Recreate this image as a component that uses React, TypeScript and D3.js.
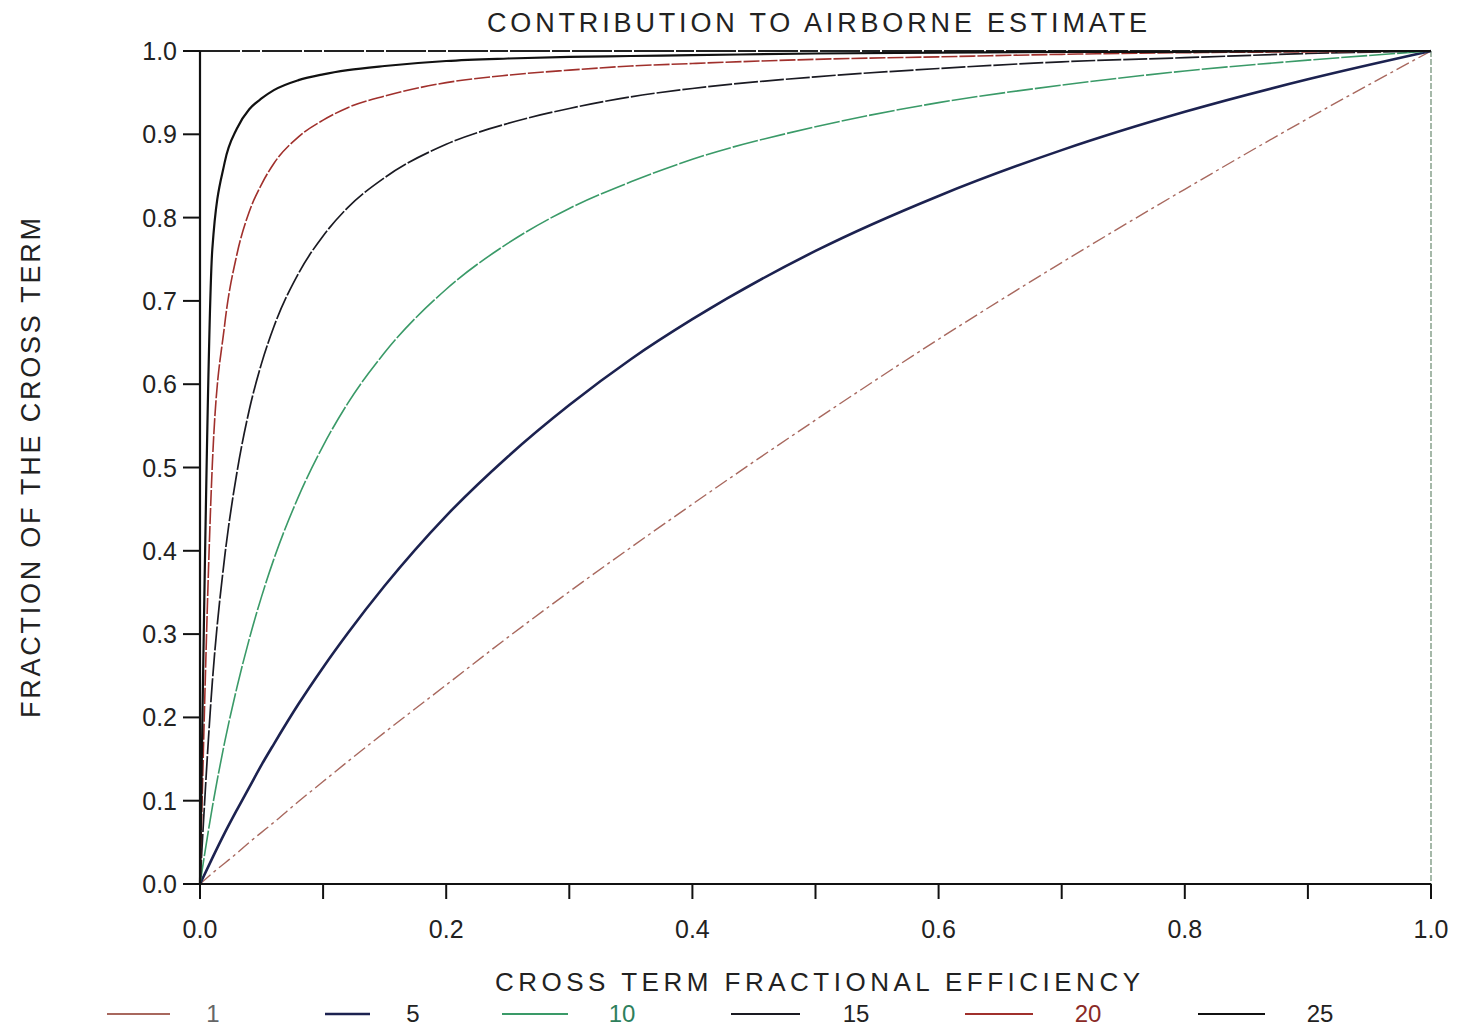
import React from "react";
import * as d3 from "d3";

// Shared abscissa: cross term fractional efficiency
const efficiency = [0, 0.01, 0.02, 0.03, 0.04, 0.05, 0.06, 0.08, 0.1, 0.12, 0.15, 0.2, 0.25, 0.3, 0.35, 0.4, 0.5, 0.6, 0.7, 0.8, 0.9, 1.0];

// Fraction of the cross term for each curve, one value per efficiency entry
const curve1 = [0, 0.013, 0.025, 0.037, 0.050, 0.062, 0.074, 0.099, 0.123, 0.147, 0.182, 0.239, 0.296, 0.351, 0.404, 0.456, 0.557, 0.654, 0.746, 0.834, 0.919, 1.0];
const curve5 = [0, 0.031, 0.061, 0.089, 0.116, 0.143, 0.168, 0.216, 0.260, 0.301, 0.358, 0.442, 0.513, 0.575, 0.630, 0.678, 0.760, 0.826, 0.881, 0.927, 0.966, 1.0];
const curve10 = [0, 0.092, 0.170, 0.236, 0.294, 0.345, 0.390, 0.465, 0.526, 0.577, 0.638, 0.714, 0.769, 0.811, 0.843, 0.870, 0.909, 0.938, 0.959, 0.976, 0.989, 1.0];
const curve15 = [0, 0.242, 0.392, 0.494, 0.569, 0.625, 0.669, 0.733, 0.778, 0.812, 0.848, 0.888, 0.913, 0.931, 0.945, 0.955, 0.969, 0.979, 0.987, 0.992, 0.997, 1.0];
const curve20 = [0, 0.503, 0.671, 0.756, 0.807, 0.840, 0.865, 0.897, 0.917, 0.932, 0.946, 0.962, 0.971, 0.977, 0.982, 0.985, 0.990, 0.993, 0.996, 0.998, 0.999, 1.0];
const curve25 = [0, 0.762, 0.866, 0.907, 0.930, 0.943, 0.953, 0.965, 0.972, 0.977, 0.982, 0.988, 0.991, 0.993, 0.994, 0.995, 0.997, 0.998, 0.999, 0.999, 1.0, 1.0];

const seriesLabels = ["1", "5", "10", "15", "20", "25"];
const seriesValues = [curve1, curve5, curve10, curve15, curve20, curve25];

const xTicks = [0, 0.1, 0.2, 0.3, 0.4, 0.5, 0.6, 0.7, 0.8, 0.9, 1.0];
const xTickLabels = ["0.0", "0.2", "0.4", "0.6", "0.8", "1.0"];
const yTicks = [0, 0.1, 0.2, 0.3, 0.4, 0.5, 0.6, 0.7, 0.8, 0.9, 1.0];

const titleText = "CONTRIBUTION TO AIRBORNE ESTIMATE";
const xLabelText = "CROSS TERM FRACTIONAL EFFICIENCY";
const yLabelText = "FRACTION OF THE CROSS TERM";

type Style = { stroke: string; width: number; dash?: string; text: string };
const styles: Style[] = [
  { stroke: "#a8685e", width: 1.4, dash: "14,4,3,4", text: "#666666" },
  { stroke: "#1c2250", width: 2.6, text: "#222222" },
  { stroke: "#3a9a68", width: 1.6, dash: "26,2", text: "#2e7f5c" },
  { stroke: "#1a1a22", width: 1.7, dash: "24,2", text: "#222222" },
  { stroke: "#a0302c", width: 1.6, dash: "16,2", text: "#8a2a26" },
  { stroke: "#111111", width: 2.2, text: "#222222" },
];

const legendPos = [
  { x0: 107, x1: 170, tx: 213 },
  { x0: 325, x1: 370, tx: 413 },
  { x0: 502, x1: 568, tx: 622 },
  { x0: 731, x1: 800, tx: 856 },
  { x0: 965, x1: 1033, tx: 1088 },
  { x0: 1198, x1: 1265, tx: 1320 },
];

const W = 1470;
const H = 1026;
const left = 200;
const right = 1431;
const top = 51;
const bottom = 884;
const font = "'Liberation Sans', Arial, sans-serif";

export default function App() {
  const x = d3.scaleLinear().domain([0, 1]).range([left, right]);
  const y = d3.scaleLinear().domain([0, 1]).range([bottom, top]);

  const line = d3
    .line<number>()
    .x((_, i) => x(efficiency[i]))
    .y((d) => y(d))
    .curve(d3.curveMonotoneX);

  return (
    <svg
      width={W}
      height={H}
      style={{ position: "absolute", left: 0, top: 0, background: "#fff" }}
      fontFamily={font}
    >
      <rect width={W} height={H} fill="#fff" />

      {/* title */}
      <text x={487} y={32} fontSize={27} fill="#222" textLength={660} lengthAdjust="spacing">
        {titleText}
      </text>

      {/* frame: top and right edges */}
      <line x1={left} x2={right} y1={top} y2={top} stroke="#222" strokeWidth={2.2} strokeDasharray="40,2,18,2" />
      <line x1={right} x2={right} y1={top} y2={bottom} stroke="#6a8a70" strokeWidth={1.2} strokeDasharray="6,2" />

      {/* curves */}
      {seriesValues.map((vals, i) => (
        <path
          key={seriesLabels[i]}
          d={line(vals) || ""}
          fill="none"
          stroke={styles[i].stroke}
          strokeWidth={styles[i].width}
          strokeDasharray={styles[i].dash}
          strokeLinejoin="round"
        />
      ))}

      {/* y axis */}
      <line x1={left} x2={left} y1={top} y2={bottom} stroke="#111" strokeWidth={2.2} />
      {yTicks.map((t) => (
        <g key={"y" + t}>
          <line x1={left - 17} x2={left} y1={y(t)} y2={y(t)} stroke="#111" strokeWidth={2} />
          <text x={177} y={y(t) + 9} fontSize={25} textAnchor="end" fill="#222">
            {t.toFixed(1)}
          </text>
        </g>
      ))}

      {/* x axis */}
      <line x1={left} x2={right} y1={bottom} y2={bottom} stroke="#111" strokeWidth={2.2} />
      {xTicks.map((t) => (
        <line key={"x" + t} x1={x(t)} x2={x(t)} y1={bottom} y2={bottom + 15} stroke="#111" strokeWidth={2} />
      ))}
      {xTickLabels.map((s) => (
        <text key={"xl" + s} x={x(+s)} y={938} fontSize={25} textAnchor="middle" fill="#222">
          {s}
        </text>
      ))}

      {/* axis titles */}
      <text x={495} y={991} fontSize={26} fill="#222" textLength={645} lengthAdjust="spacing">
        {xLabelText}
      </text>
      <text
        transform="translate(40,718) rotate(-90)"
        x={0}
        y={0}
        fontSize={27}
        fill="#222"
        textLength={500}
        lengthAdjust="spacing"
      >
        {yLabelText}
      </text>

      {/* legend */}
      {seriesLabels.map((lab, i) => (
        <g key={"lg" + lab}>
          <line
            x1={legendPos[i].x0}
            x2={legendPos[i].x1}
            y1={1014}
            y2={1014}
            stroke={styles[i].stroke}
            strokeWidth={Math.max(1.8, styles[i].width)}
          />
          <text x={legendPos[i].tx} y={1022} fontSize={24} textAnchor="middle" fill={styles[i].text}>
            {lab}
          </text>
        </g>
      ))}
    </svg>
  );
}
